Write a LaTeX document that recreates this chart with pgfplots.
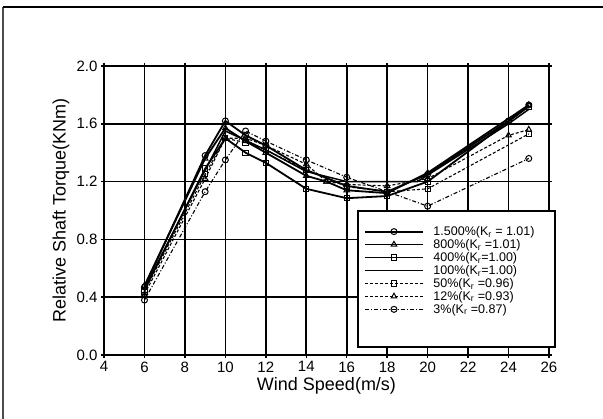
\documentclass[border=0pt]{standalone}
\usepackage{fontspec}
\setmainfont{Liberation Sans}
\usepackage{pgfplots}
\pgfplotsset{compat=1.18}
\begin{document}
\begin{tikzpicture}
\useasboundingbox (0pt,0pt) rectangle (603pt,419pt);
\draw[line width=1.2pt, black!70] (3pt,0pt) -- (3pt,412pt);
\draw[line width=1.2pt] (3pt,412pt) -- (603pt,412pt);
\begin{axis}[
  at={(104pt,64pt)}, anchor=south west,
  width=445pt, height=289pt, scale only axis,
  xmin=4, xmax=26, ymin=0, ymax=2,
  xtick={4,6,...,26}, ytick={0,0.4,...,2.01},
  /pgf/number format/assume math mode=true,
  yticklabel style={/pgf/number format/.cd, fixed, fixed zerofill, precision=1},
  ticklabel style={font=\fontsize{15}{15}\selectfont},
  tick align=outside, major tick length=3pt,
  axis line style={line width=2pt},
  every tick/.style={line width=1.5pt, black},
  grid=major, major grid style={line width=1.6pt, black},
  xlabel={Wind Speed(m/s)},
  ylabel={Relative Shaft Torque(KNm)},
  label style={font=\fontsize{18}{18}\selectfont},
  xlabel style={at={(axis description cs:0.5,0)}, anchor=center, yshift=-31pt},
  ylabel style={at={(axis description cs:0,0.5)}, anchor=center, yshift=43pt},
  clip=false,
  mark options={solid, fill=white, line width=1pt},
  legend cell align=left,
  legend image code/.code={\draw[mark repeat=2, mark phase=2, #1] plot coordinates {(0pt,0pt) (29pt,0pt) (58pt,0pt)};},
  legend style={at={(0.584,0.448)}, anchor=north west, draw=none, fill=none,
    font=\fontsize{12.5}{12.5}\selectfont, row sep=1.2pt, column sep=9pt, inner sep=0pt,
    nodes={inner sep=0.6pt}},
]
\addplot[black, line width=1.8pt, mark=o, mark size=3pt] coordinates {
 (6,0.47) (9,1.38) (10,1.62) (11,1.52) (12,1.45) (14,1.28) (16,1.17) (18,1.13) (20,1.25) (24,1.62) (25,1.73)};
\addplot[black, line width=1.8pt, mark=triangle, mark size=3.2pt] coordinates {
 (6,0.48) (9,1.36) (10,1.57) (11,1.48) (12,1.40) (14,1.24) (15,1.20) (16,1.14) (18,1.12) (20,1.26) (25,1.73)};
\addplot[black, line width=1.8pt, mark=square, mark size=2.6pt] coordinates {
 (6,0.45) (9,1.29) (10,1.50) (11,1.40) (12,1.33) (14,1.15) (16,1.085) (18,1.10) (20,1.20) (25,1.72)};
\addplot[black, line width=1.5pt] coordinates {
 (6,0.46) (10,1.55) (12,1.42) (14,1.27) (16,1.20) (18,1.20) (19.5,1.20) (24,1.60) (25,1.70)};
\addplot[black, line width=1.1pt, densely dashed, mark=square, mark size=2.6pt] coordinates {
 (6,0.44) (9,1.25) (10,1.50) (11,1.47) (12,1.42) (14,1.28) (16,1.165) (18,1.13) (20,1.15) (25,1.53)};
\addplot[black, line width=1.1pt, densely dashed, mark=triangle, mark size=3.2pt] coordinates {
 (6,0.42) (9,1.22) (10,1.50) (11,1.50) (12,1.45) (14,1.32) (15,1.20) (16,1.18) (18,1.17) (20,1.22) (24,1.52) (25,1.56)};
\addplot[black, line width=1.1pt, dash pattern=on 4pt off 2pt on 1pt off 2pt, mark=o, mark size=3pt] coordinates {
 (6,0.38) (9,1.13) (10,1.35) (11,1.55) (12,1.48) (14,1.35) (16,1.23) (20,1.03) (25,1.36)};
\draw[line width=1.8pt, fill=white] (rel axis cs:0.571,0.028) rectangle (rel axis cs:1.0135,0.498);
\legend{1.500\%(K\textsubscript{r} = 1.01), 800\%(K\textsubscript{r} =1.01), 400\%(K\textsubscript{r}=1.00), 100\%(K\textsubscript{r}=1.00), 50\%(K\textsubscript{r} =0.96), 12\%(K\textsubscript{r} =0.93), 3\%(K\textsubscript{r} =0.87)}
\end{axis}
\end{tikzpicture}
\end{document}
